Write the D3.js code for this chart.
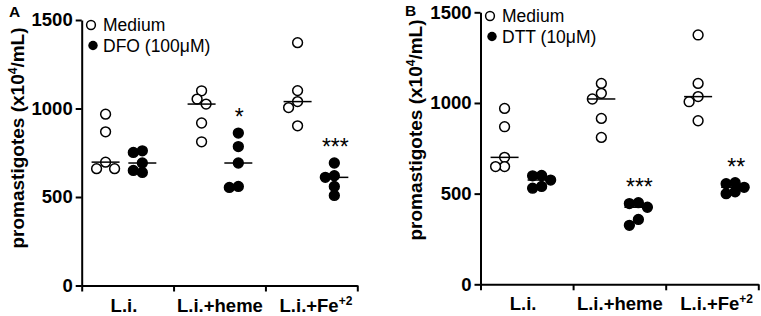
<!DOCTYPE html>
<html>
<head>
<meta charset="utf-8">
<script src="https://cdn.jsdelivr.net/npm/d3@7"></script>
<style>
  body { margin: 0; background: #fff; }
  svg { display: block; }
  text { font-family: "Liberation Sans", Arial, sans-serif; fill: #000; }
</style>
</head>
<body>
<svg id="chart" width="761" height="316"></svg>
<script>
// groups on the x axis ("^" marks the superscript part)
const categories = ['L.i.', 'L.i.+heme', 'L.i.+Fe^+2']
const yTicks = [0, 500, 1000, 1500]

// panel A: medium vs DFO
const mediumA = [[968, 868, 697, 660, 660], [1100, 1053, 1025, 918, 812], [1372, 1101, 1039, 1005, 902]]
const dfoA = [[761, 752, 692, 650, 639], [861, 785, 692, 560, 554], [692, 620, 611, 560, 509]]
const starsA = ['', '*', '***']

// panel B: medium vs DTT
const mediumB = [[970, 869, 700, 649, 649], [1108, 1053, 1022, 915, 810], [1375, 1108, 1035, 1007, 902]]
const dttB = [[600, 598, 575, 540, 530], [450, 445, 425, 358, 325], [560, 555, 535, 510, 500]]
const starsB = ['', '***', '**']

const svg = d3.select('#chart')
const R = 4.9

function swarm(values, cx, y) {
  // place points in a column, pushing sideways when they collide
  const placed = []
  const order = values.map((v, i) => i).sort((a, b) => values[b] - values[a])
  const out = []
  order.forEach(i => {
    const py = y(values[i])
    const steps = [0, -4.5, 4.5, -9, 9, -13.5, 13.5]
    let px = cx
    for (const s of steps) {
      const ok = placed.every(p => Math.hypot(p[0] - (cx + s), p[1] - py) >= 8.8)
      if (ok) { px = cx + s; break }
    }
    placed.push([px, py])
    out.push({v: values[i], x: px, y: py})
  })
  return out
}

function drawPanel(opt) {
  const g = svg.append('g')
  const y = d3.scaleLinear().domain([0, 1500]).range(opt.yRange)
  const x = d3.scaleLinear().domain([0, 3]).range(opt.xRange)

  const yAxis = g.append('g')
    .attr('transform', `translate(${opt.xRange[0]},0)`)
    .call(d3.axisLeft(y).tickValues(yTicks).tickFormat(d3.format('d')).tickSize(6).tickSizeOuter(0).tickPadding(3))
  g.append('g')
    .attr('transform', `translate(0,${opt.yRange[0]})`)
    .call(d3.axisBottom(x).tickValues([0, 1, 2, 3]).tickFormat('').tickSize(6).tickSizeOuter(0))

  g.selectAll('.domain, .tick line').attr('stroke', '#000').attr('stroke-width', 2)
  yAxis.selectAll('.tick text')
    .attr('font-size', 18.5).attr('font-weight', 'bold')
    .style('font-family', '"Liberation Sans", Arial, sans-serif')

  // category labels
  categories.forEach((c, i) => {
    const parts = c.split('^')
    const t = g.append('text')
      .attr('x', x(0.46 + 1.045 * i))
      .attr('y', opt.yRange[0] + 26)
      .attr('text-anchor', 'middle')
      .attr('font-size', 18.5).attr('font-weight', 'bold')
    t.append('tspan').text(parts[0])
    if (parts[1]) {
      t.append('tspan').attr('font-size', 12).attr('dy', -7).text(parts[1])
    }
  })

  // y title
  const yt = g.append('text')
    .attr('transform', `translate(${opt.titleX},${opt.titleY}) rotate(-90)`)
    .attr('text-anchor', 'middle')
    .attr('font-size', 19).attr('font-weight', 'bold')
  yt.append('tspan').text('promastigotes (x10')
  yt.append('tspan').attr('font-size', 12).attr('dy', -7).text('4')
  yt.append('tspan').attr('dy', 7).text('/mL)')

  // panel letter
  g.append('text').attr('x', opt.letterX).attr('y', opt.letterY)
    .attr('font-size', 15.5).attr('font-weight', 'bold').text(opt.letter)

  const series = [
    {data: opt.medium, off: -0.2, filled: false},
    {data: opt.treat, off: 0.2, filled: true}
  ]
  series.forEach(s => {
    s.data.forEach((vals, i) => {
      const cx = x(0.46 + 1.045 * i + s.off)
      const pts = swarm(vals, cx, y)
      const med = d3.median(vals)
      g.append('g').selectAll('circle')
        .data(pts)
        .join('circle')
        .attr('cx', d => d.x)
        .attr('cy', d => d.y)
        .attr('r', R)
        .attr('fill', s.filled ? '#000' : '#fff')
        .attr('stroke', '#000')
        .attr('stroke-width', 1.5)
      g.append('line')
        .attr('x1', cx - 14).attr('x2', cx + 14)
        .attr('y1', y(med)).attr('y2', y(med))
        .attr('stroke', '#000').attr('stroke-width', 1.5)
      if (s.filled && opt.stars[i]) {
        g.append('text')
          .attr('x', cx + 1)
          .attr('y', y(d3.max(vals)) - 8)
          .attr('text-anchor', 'middle')
          .attr('font-size', 23)
          .text(opt.stars[i])
      }
    })
  })

  // legend
  const leg = g.append('g')
  leg.append('circle').attr('cx', opt.legX).attr('cy', opt.legY)
    .attr('r', 4.4).attr('fill', '#fff').attr('stroke', '#000').attr('stroke-width', 1.5)
  leg.append('circle').attr('cx', opt.legX + 2).attr('cy', opt.legY + 20.5)
    .attr('r', 4.7).attr('fill', '#000')
  leg.append('text').attr('x', opt.legX + 12).attr('y', opt.legY + 6)
    .attr('font-size', 17.5).text('Medium')
  leg.append('text').attr('x', opt.legX + 12).attr('y', opt.legY + 26.5)
    .attr('font-size', 17.5).text(opt.treatLabel)
}

drawPanel({
  letter: 'A', letterX: 9, letterY: 17,
  yRange: [285.5, 20], xRange: [81.7, 357.3],
  titleX: 24, titleY: 138,
  medium: mediumA, treat: dfoA, stars: starsA,
  treatLabel: 'DFO (100\u03bcM)', legX: 91, legY: 25
})

drawPanel({
  letter: 'B', letterX: 405, letterY: 16,
  yRange: [284.3, 12.3], xRange: [480.5, 758.3],
  titleX: 422, titleY: 130,
  medium: mediumB, treat: dttB, stars: starsB,
  treatLabel: 'DTT (10\u03bcM)', legX: 490, legY: 16
})
</script>
</body>
</html>
